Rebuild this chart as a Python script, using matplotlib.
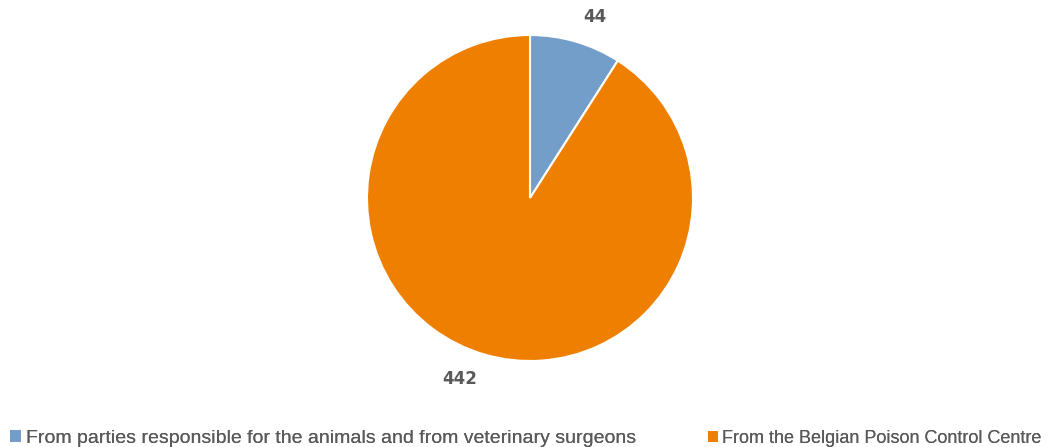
import matplotlib.pyplot as plt
from matplotlib.patches import Patch

# data
categories = ["From parties responsible for the animals and from veterinary surgeons",
              "From the Belgian Poison Control Centre"]
values = [44, 442]
colors = ["#739ECA", "#EE7F00"]

W, H = 1059, 447
fig = plt.figure(figsize=(W / 100, H / 100), dpi=100)

# pie centre ~ (530, 198) px, radius ~ 163 px
cx, cy, r = 530, 198, 163
ax = fig.add_axes([(cx - r) / W, (H - cy - r) / H, 2 * r / W, 2 * r / H])

wedges, texts = ax.pie(values, labels=[str(v) for v in values], colors=colors,
                       startangle=90, counterclock=False, radius=1,
                       labeldistance=1.16,
                       wedgeprops=dict(edgecolor="white", linewidth=1.5),
                       textprops=dict(fontsize=12, fontweight="bold", color="#595959"))
ax.set_xlim(-1, 1)
ax.set_ylim(-1, 1)
ax.set_aspect("auto")
ax.axis("off")

# legend entries, one per category, spread along the bottom
anchors = [-0.007, 0.653]
sizes = [14, 13]
bottoms = [-0.039, -0.036]
for i, (lab, c) in enumerate(zip(categories, colors)):
    leg = fig.legend([Patch(facecolor=c, edgecolor="none")], [lab],
                     loc="lower left", bbox_to_anchor=(anchors[i], bottoms[i]),
                     frameon=False, handlelength=0.55, handleheight=0.55,
                     handletextpad=0.25,
                     prop=dict(family="Liberation Sans", size=sizes[i]),
                     labelcolor="#595959")
    fig.add_artist(leg)

fig.savefig("out.png", dpi=100)
